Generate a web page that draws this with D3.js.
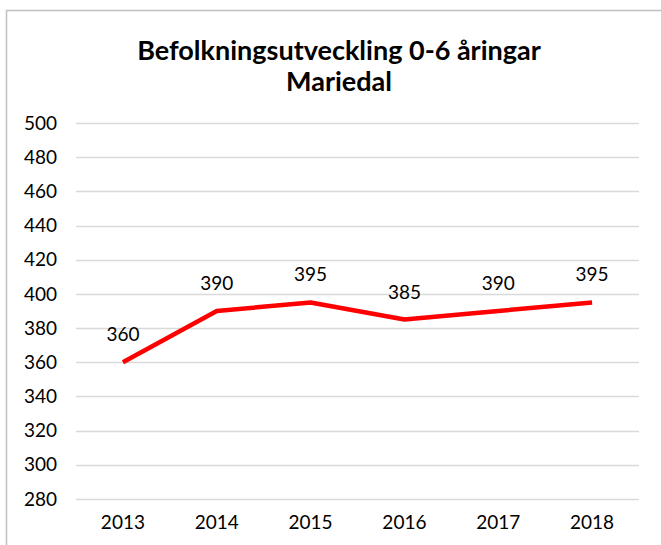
<!DOCTYPE html>
<html>
<head>
<meta charset="utf-8">
<script src="https://cdn.jsdelivr.net/npm/d3@7"></script>
<style>
  body { margin: 0; background: #fff; }
  text { font-family: Lato, "Open Sans", sans-serif; fill: #000; }
</style>
</head>
<body>
<div id="wrapper"></div>
<script>
const years = ["2013", "2014", "2015", "2016", "2017", "2018"]
const values = [360, 390, 395, 385, 390, 395]
const yTicks = [280, 300, 320, 340, 360, 380, 400, 420, 440, 460, 480, 500]
const titleLines = ["Befolkningsutveckling 0-6 åringar", "Mariedal"]

let dimensions = {
  width: 661,
  height: 545,
  margin: { top: 123, right: 22, bottom: 46, left: 76 },
}
dimensions.boundedWidth = dimensions.width - dimensions.margin.left - dimensions.margin.right
dimensions.boundedHeight = dimensions.height - dimensions.margin.top - dimensions.margin.bottom

const wrapper = d3.select("#wrapper")
  .append("svg")
  .attr("width", dimensions.width)
  .attr("height", dimensions.height)

// chart frame
wrapper.append("path")
  .attr("d", "M6.5,545 V10.5 H661")
  .attr("fill", "none")
  .attr("stroke", "#bfbfbf")
  .attr("stroke-width", 1.5)

const bounds = wrapper.append("g")
  .attr("transform", `translate(${dimensions.margin.left},${dimensions.margin.top})`)

const xScale = d3.scaleBand()
  .domain(years)
  .range([0, dimensions.boundedWidth])

const yScale = d3.scaleLinear()
  .domain([280, 500])
  .range([dimensions.boundedHeight, 0])

// gridlines
bounds.selectAll(".grid")
  .data(yTicks)
  .enter().append("line")
  .attr("x1", 0)
  .attr("x2", dimensions.boundedWidth)
  .attr("y1", d => Math.round(yScale(d)) + 0.5)
  .attr("y2", d => Math.round(yScale(d)) + 0.5)
  .attr("stroke", "#d9d9d9")
  .attr("stroke-width", 1.5)

const yAxis = bounds.append("g")
  .call(d3.axisLeft(yScale).tickValues(yTicks).tickSize(0).tickPadding(19))
yAxis.select(".domain").remove()
yAxis.selectAll("text").style("font-size", "19px")

const xAxis = bounds.append("g")
  .attr("transform", `translate(0,${dimensions.boundedHeight})`)
  .call(d3.axisBottom(xScale).tickSize(0).tickPadding(17))
xAxis.select(".domain").remove()
xAxis.selectAll("text").style("font-size", "19px")

const lineGenerator = d3.line()
  .x((d, i) => xScale(years[i]) + xScale.bandwidth() / 2)
  .y(d => yScale(d))

bounds.append("path")
  .attr("d", lineGenerator(values))
  .attr("fill", "none")
  .attr("stroke", "#ff0000")
  .attr("stroke-width", 4.5)
  .attr("stroke-linejoin", "round")

bounds.selectAll(".label")
  .data(values)
  .enter().append("text")
  .attr("x", (d, i) => xScale(years[i]) + xScale.bandwidth() / 2)
  .attr("y", d => yScale(d) - 21)
  .attr("text-anchor", "middle")
  .style("font-size", "19px")
  .text(d => d)

wrapper.append("text")
  .attr("x", 339)
  .attr("y", 60)
  .attr("text-anchor", "middle")
  .style("font-size", "27px")
  .style("font-weight", "bold")
  .selectAll("tspan")
  .data(titleLines)
  .enter().append("tspan")
  .attr("x", 339)
  .attr("dy", (d, i) => i === 0 ? 0 : 31)
  .text(d => d)
</script>
</body>
</html>
